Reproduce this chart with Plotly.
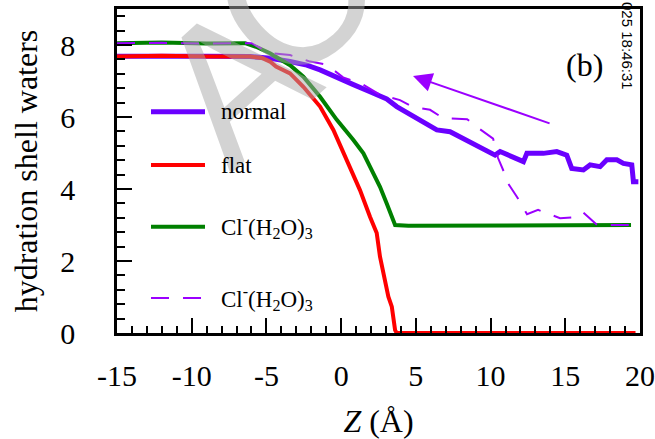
import plotly.graph_objects as go

# ---------------- data ----------------
z_normal = [-15, -12, -9, -6.1, -4.76, -3.42, -2.30, -1.41, -0.29, 0.82, 1.93, 3.05, 3.72,
            5.06, 6.40, 7.29, 8.41, 9.52, 10.30, 10.64, 11.53, 12.20, 12.43, 13.53, 14.43,
            15.10, 15.43, 16.21, 16.66, 17.33, 17.78, 18.45, 18.89, 19.45, 19.56, 19.89]
v_normal = [7.69, 7.70, 7.69, 7.68, 7.63, 7.54, 7.44, 7.31, 7.12, 6.90, 6.70, 6.50, 6.29,
            5.96, 5.64, 5.59, 5.36, 5.13, 4.94, 5.04, 4.90, 4.76, 4.99, 4.99, 5.04,
            4.94, 4.57, 4.53, 4.67, 4.62, 4.81, 4.81, 4.71, 4.67, 4.20, 4.20]

z_flat = [-15, -12, -9, -6.1, -5.3, -4.76, -4.36, -3.42, -2.53, -1.41, -0.52, 0.37, 1.26,
          1.93, 2.38, 2.6, 2.94, 3.16, 3.39, 3.61, 3.72, 8, 12, 16, 19.7]
v_flat = [7.68, 7.70, 7.68, 7.68, 7.64, 7.54, 7.40, 7.21, 6.84, 6.29, 5.64, 4.81, 3.97,
          3.23, 2.78, 2.12, 1.47, 1.01, 0.73, 0.08, 0, 0, 0, 0, 0]

z_cluster = [-15, -12, -9, -6.43, -5.7, -4.76, -3.42, -2.53, -1.41, -0.29, 0.82, 1.49, 1.93,
             2.6, 3.05, 3.39, 3.61, 4.5, 8, 12, 16, 19.4]
v_cluster = [8.05, 8.07, 8.04, 8.05, 7.95, 7.77, 7.44, 7.12, 6.56, 5.92, 5.36, 4.99, 4.62,
             4.06, 3.60, 3.23, 3.0, 2.98, 2.98, 3.0, 3.0, 3.0]

z_cluster2 = [-15, -12, -9, -6.0, -4.76, -3.42, -2.15, -0.96, 0.13, 1.47, 2.60, 3.94, 4.81,
              5.95, 6.82, 8.43, 9.16, 10.17, 10.50, 10.97, 11.1, 11.77, 12.44, 13.18, 14.65,
              15.79, 16.2, 17.13, 19.87]
v_cluster2 = [8.05, 8.06, 8.04, 8.05, 7.78, 7.72, 7.55, 7.45, 7.10, 6.90, 6.62, 6.47, 6.28,
              6.20, 5.97, 5.94, 5.70, 5.40, 4.86, 4.40, 4.20, 3.78, 3.30, 3.42, 3.19,
              3.22, 3.35, 3.00, 3.00]

series_names = ["normal", "flat", "Cl<sup>-</sup>(H<sub>2</sub>O)<sub>3</sub>",
                "Cl<sup>-</sup>(H<sub>2</sub>O)<sub>3</sub>"]
series_colors = ["#6a00ff", "#ff0000", "#008000", "#9b00ff"]

x_tickvals = [-15, -10, -5, 0, 5, 10, 15, 20]
x_ticktext = ["-15", "-10", "-5", "0", "5", "10", "15", "20"]
y_tickvals = [0, 2, 4, 6, 8]
y_ticktext = ["0", "2", "4", "6", "8"]

SERIF = "Liberation Serif"
L, R, T, B, W, H = 117, 15, 9, 106, 655, 439
PW, PH = W - L - R, H - T - B


def px_to_paper(px, py):
    return (px - L) / PW, (H - B - py) / PH


fig = go.Figure()
line_styles = [dict(width=5), dict(width=4), dict(width=4), dict(width=2, dash="18px,14px")]
for zs, vs, name, col, st in zip([z_normal, z_flat, z_cluster, z_cluster2],
                                 [v_normal, v_flat, v_cluster, v_cluster2],
                                 series_names, series_colors, line_styles):
    fig.add_trace(go.Scatter(x=zs, y=vs, mode="lines", name=name, showlegend=False,
                             line=dict(color=col, **st)))

annos = []
# watermark (faint)
for letter, (px, py) in [("A", (233, 80)), ("C", (292, -2))]:
    wx, wy = px_to_paper(px, py)
    annos.append(dict(x=wx, y=wy, xref="paper", yref="paper", text=letter, showarrow=False,
                      xanchor="center", yanchor="middle", textangle=-42,
                      font=dict(family="Liberation Sans", size=195, color="#a8a8a8"),
                      opacity=0.5))

# manual legend
leg_py = [111.7, 165, 226.7, 298]
shapes = []
for py, name, col, st in zip(leg_py, series_names, series_colors, line_styles):
    x0, yy = px_to_paper(151, py)
    x1, _ = px_to_paper(205, py)
    xt, _ = px_to_paper(219, py)
    shapes.append(dict(type="line", xref="paper", yref="paper", x0=x0, x1=x1,
                       y0=yy, y1=yy, line=dict(color=col, **st)))
    annos.append(dict(xref="paper", yref="paper", x=xt, y=yy, text=name, showarrow=False,
                      xanchor="left", yanchor="middle",
                      font=dict(family=SERIF, size=23, color="black")))

# arrow
annos.append(dict(x=4.81, y=7.14, ax=14.05, ay=5.81, xref="x", yref="y", axref="x", ayref="y",
                  text="", showarrow=True, arrowhead=2, arrowsize=1.9, arrowwidth=2,
                  arrowcolor="#9b00ff"))
# panel label
annos.append(dict(x=16.3, y=7.44, xref="x", yref="y", text="(b)", showarrow=False,
                  font=dict(family=SERIF, size=32, color="black")))
# timestamp
tx, ty = px_to_paper(628, 0)
annos.append(dict(x=tx, y=ty, xref="paper", yref="paper", text="025 18:46:31",
                  showarrow=False, textangle=90, xanchor="center", yanchor="top",
                  font=dict(family="Liberation Sans", size=15, color="black")))

fig.update_layout(
    width=W, height=H,
    margin=dict(l=L, r=R, t=T, b=B),
    paper_bgcolor="white", plot_bgcolor="white",
    shapes=shapes, annotations=annos,
    xaxis=dict(range=[-15, 20], tickmode="array", tickvals=x_tickvals, ticktext=x_ticktext,
               ticks="inside", ticklen=15, tickwidth=1.5, tickcolor="black",
               minor=dict(dtick=1, tick0=-15, ticks="inside", ticklen=7, tickwidth=1.5, tickcolor="black"),
               showline=True, linewidth=2.5, linecolor="black", mirror=True,
               showgrid=False, zeroline=False, ticklabelstandoff=14, automargin=False,
               tickfont=dict(family=SERIF, size=30, color="black"),
               title=dict(text="<i>Z</i> (Å)", font=dict(family=SERIF, size=32, color="black"), standoff=20)),
    yaxis=dict(range=[0, 9], tickmode="array", tickvals=y_tickvals, ticktext=y_ticktext,
               ticks="inside", ticklen=15, tickwidth=1.5, tickcolor="black",
               minor=dict(dtick=0.4, tick0=0, ticks="inside", ticklen=8, tickwidth=1.5, tickcolor="black"),
               showline=True, linewidth=2.5, linecolor="black", mirror=True,
               showgrid=False, zeroline=False, ticklabelstandoff=33, automargin=False,
               tickfont=dict(family=SERIF, size=30, color="black"),
               title=dict(text="hydration shell waters", font=dict(family=SERIF, size=32, color="black"), standoff=14)),
)

fig.write_html("out.html")
